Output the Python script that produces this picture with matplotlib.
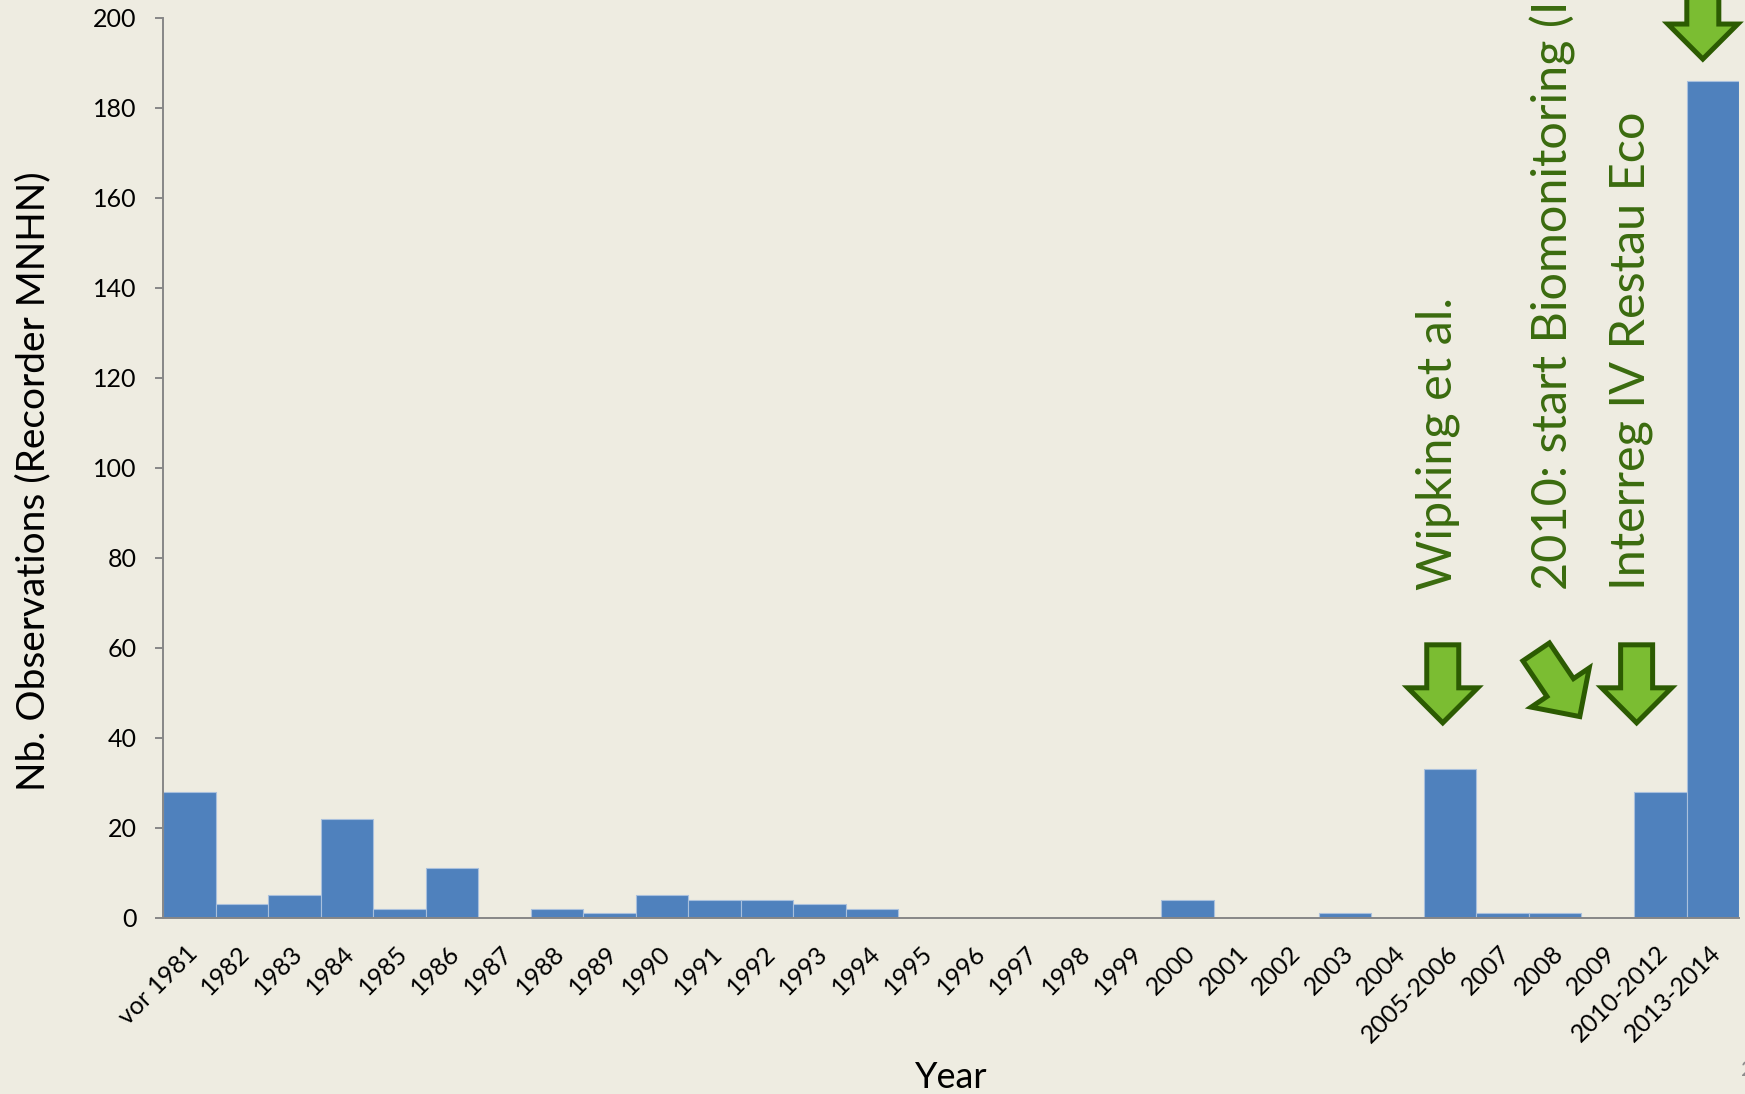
import numpy as np
import matplotlib
matplotlib.use('Agg')
import matplotlib.pyplot as plt
from matplotlib.patches import Polygon
from matplotlib.transforms import Affine2D, ScaledTranslation

# Beobachtungen pro Jahr
years = ['vor 1981', '1982', '1983', '1984', '1985', '1986', '1987', '1988', '1989',
         '1990', '1991', '1992', '1993', '1994', '1995', '1996', '1997', '1998', '1999',
         '2000', '2001', '2002', '2003', '2004', '2005-2006', '2007', '2008', '2009',
         '2010-2012', '2013-2014']
counts = [28, 3, 5, 22, 2, 11, 0, 2, 1, 5, 4, 4, 3, 2, 0, 0, 0, 0, 0,
          4, 0, 0, 1, 0, 33, 1, 1, 0, 28, 186]

# Anmerkungen (x in Kategorien, y in Anzahl)
notes = [(23.76, 72.9, 'Wipking et al.'),
         (25.95, 72.9, '2010: start Biomonitoring (I'),
         (27.44, 72.9, 'Interreg IV Restau Eco')]
# Pfeilspitzen: x, y, Drehung
arrows = [(23.86, 42.7, 0), (26.50, 44.2, 34), (27.55, 42.7, 0), (28.81, 190.2, 0)]

bg = '#eeece1'
axis_grey = '#878787'
plt.rcParams['font.family'] = ['Lato', 'DejaVu Sans']

fig = plt.figure(figsize=(17.45, 10.94), dpi=100, facecolor=bg)
ax = fig.add_axes([0.0934, 0.1609, 0.9032, 0.8227])
ax.set_facecolor(bg)

x = np.arange(len(years))
ax.bar(x, counts, width=1.0, color='#4f81bd', edgecolor='#a9c0dd', linewidth=0.8)
ax.set_xlim(-0.5, len(years) - 0.5)
ax.set_ylim(0, 200)
ax.set_yticks(range(0, 201, 20))
ax.set_xticks(x, years, rotation=45, ha='right', va='top', rotation_mode='anchor')

for s in ['top', 'right']:
    ax.spines[s].set_visible(False)
for s in ['left', 'bottom']:
    ax.spines[s].set_color(axis_grey)
    ax.spines[s].set_linewidth(1.4)

ax.tick_params(axis='y', length=5.8, width=1.4, color=axis_grey, pad=13, labelsize=18)
ax.tick_params(axis='x', length=0, pad=17, labelsize=18)
for lab in ax.get_xticklabels():
    lab.set_transform(lab.get_transform() + ScaledTranslation(-0.04, 0, fig.dpi_scale_trans))

ax.set_ylabel('Nb. Observations (Recorder MNHN)', fontsize=28)
ax.yaxis.set_label_coords(-0.071, 0.485)
ax.set_xlabel('Year', fontsize=26)
ax.xaxis.set_label_coords(0.5, -0.159)

for nx, ny, txt in notes:
    ax.text(nx, ny, txt, rotation=90, ha='center', va='bottom', fontsize=35,
            color='#3a6b0e', clip_on=False)

# Pfeil in Pixeln, Spitze im Ursprung, nach unten
shape = [(0, 3), (-35, 38), (-16, 38), (-16, 81), (16, 81), (16, 38), (35, 38)]
for axx, axy, ang in arrows:
    tr = Affine2D().rotate_deg(ang) + ScaledTranslation(axx, axy, ax.transData)
    p = Polygon(shape, closed=True, transform=tr, facecolor='#7bbd32',
                edgecolor='#2c5b02', linewidth=3.6, joinstyle='miter', clip_on=False)
    ax.add_artist(p)

# angeschnittene Foliennummer wie im Original
fig.text(1741 / 1745, 1 - 1070 / 1094, '2', ha='left', va='center', fontsize=16, color='#8c8c8c')

fig.savefig('out.png', dpi=100, facecolor=bg)
